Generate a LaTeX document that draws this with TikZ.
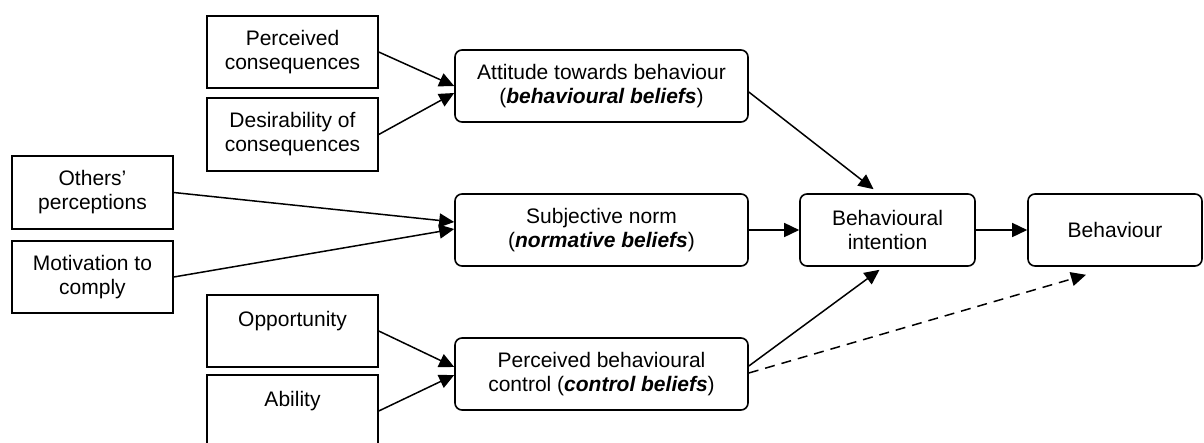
\documentclass[tikz,border=0pt]{standalone}
\usepackage{fontspec}
\setmainfont{Liberation Sans}
\usetikzlibrary{arrows.meta,calc}
\newcommand\diafont{\fontsize{21pt}{24pt}\selectfont}
\begin{document}
\begin{tikzpicture}[x=1pt,y=-1pt,
  box/.style={draw, line width=1.6pt, rounded corners=7pt, align=center, inner sep=0pt, font=\diafont, minimum height=72pt},
  sqbox/.style={draw, line width=1.5pt, align=center, inner sep=0pt, font=\diafont, minimum height=72pt, minimum width=171pt},
  arr/.style={line width=1.5pt, -{Triangle[length=15pt,width=14pt]}},
  dasharr/.style={arr, dash pattern=on 10pt off 7pt}
]
\useasboundingbox (0,0) rectangle (1204,442);
\fill[white] (0,0) rectangle (1204,442);

\node[sqbox] (pc) at (292.5,52) {Perceived\\consequences};
\node[sqbox, minimum height=73pt] (dc) at (292.5,134.5) {Desirability of\\consequences};
\node[sqbox, minimum width=161pt, minimum height=73pt] (op) at (92.5,192.5) {Others’\\perceptions};
\node[sqbox, minimum width=161pt] (mc) at (92.5,277) {Motivation to\\comply};
\node[sqbox] (opp) at (292.5,331) {Opportunity\\~};
\node[sqbox] (ab) at (292.5,411) {Ability\\~};

\node[box, minimum width=293pt] (att) at (601.5,86) {Attitude towards behaviour\\(\textbf{\textit{behavioural beliefs}})};
\node[box, minimum width=293pt] (sn) at (601.5,230) {Subjective norm\\(\textbf{\textit{normative beliefs}})};
\node[box, minimum width=293pt] (pbc) at (601.5,374) {Perceived behavioural\\control (\textbf{\textit{control beliefs}})};
\node[box, minimum width=175pt] (bi) at (887.5,230) {Behavioural\\intention};
\node[box, minimum width=174pt] (beh) at (1115,230) {Behaviour};

\draw[arr] (pc.east) -- ($(att.west)+(0,0)$);
\draw[arr] (dc.east) -- ($(att.west)+(0,7)$);
\draw[arr] (op.east) -- ($(sn.west)+(0,-8)$);
\draw[arr] (mc.east) -- ($(sn.west)+(0,-1)$);
\draw[arr] (opp.east) -- ($(pbc.west)+(0,-7)$);
\draw[arr] (ab.east) -- ($(pbc.west)+(0,1)$);
\draw[arr] (sn.east) -- (bi.west);
\draw[arr] (bi.east) -- (beh.west);
\draw[arr] ($(att.east)+(0,6)$) -- ($(bi.north)+(-14,-4)$);
\draw[arr] ($(pbc.east)+(0,-8)$) -- ($(bi.south)+(-8,3)$);
\draw[dasharr] ($(pbc.east)+(0,-1)$) -- ($(beh.south)+(-29,8)$);
\end{tikzpicture}
\end{document}
